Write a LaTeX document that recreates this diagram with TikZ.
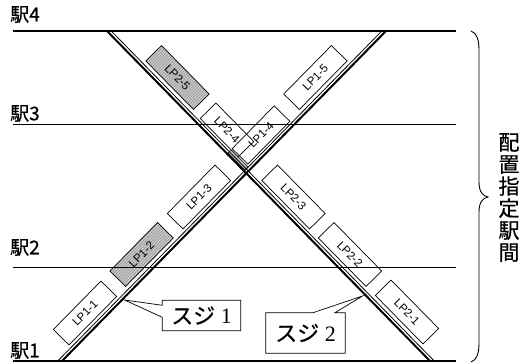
\documentclass[tikz,border=0pt]{standalone}
\usepackage{fontspec}
\setmainfont{Liberation Serif}
\newfontfamily\jpfont[FakeBold=0.6]{Noto Sans CJK JP}
\newfontfamily\lpfont{Liberation Sans}
\usetikzlibrary{patterns,calc}
\tikzset{
  stthick/.style={line width=1.6pt},
  stthin/.style={line width=0.8pt},
  trackmain/.style={line width=2pt},
  trackside/.style={line width=0.8pt},
  lpbox/.style={draw, line width=0.7pt, minimum width=68pt, minimum height=22pt, inner sep=0pt, font=\lpfont\fontsize{11.5}{11.5}\selectfont},
  lpshort/.style={lpbox, minimum width=54pt},
  lpup/.style={rotate=45.5},
  lpdown/.style={rotate=-45.5},
  hatched/.style={preaction={fill=gray!45}, pattern=north east lines, pattern color=gray!80},
  stlabel/.style={font=\jpfont\fontsize{19}{19}\selectfont, inner sep=0pt, anchor=west},
  sujibox/.style={inner sep=0pt, font=\fontsize{22}{22}\selectfont},
  callout/.style={line width=0.7pt, line join=miter},
}
\begin{document}
\begin{tikzpicture}[x=1pt,y=-1pt]
\useasboundingbox (0,0) rectangle (531,363);
% track coordinates
\coordinate (a1) at (62,361);
\coordinate (b1) at (386,31);
\coordinate (a1s) at (57.8,361);
\coordinate (b1s) at (381.8,31);
\coordinate (a2) at (107,31);
\coordinate (b2) at (430,361);
\coordinate (a2s) at (111.2,31);
\coordinate (b2s) at (434.2,361);
% boxes
\node[lpbox, lpup] (lp11) at (85,313) {LP1-1};
\node[lpbox, lpup, hatched] (lp12) at (141.6,254.5) {LP1-2};
\node[lpbox, lpup] (lp13) at (199,197) {LP1-3};
\node[lpbox, lpup] (lp15) at (315.4,77.5) {LP1-5};
\node[lpbox, lpdown] (lp21) at (407,312) {LP2-1};
\node[lpbox, lpdown] (lp22) at (350,254.5) {LP2-2};
\node[lpbox, lpdown] (lp23) at (293.5,197) {LP2-3};
\node[lpshort, lpdown] (lp24) at (227,130) {LP2-4};
\node[lpshort, minimum width=60pt, lpup] (lp14) at (261,135) {LP1-4};
\node[lpbox, lpdown, hatched] (lp25) at (177.5,77.5) {LP2-5};
\node[draw, line width=0.5pt, fill=gray!50, minimum width=24pt, minimum height=4.5pt, inner sep=0pt, lpdown] (small) at (238,160) {};
% station lines
\coordinate (s4l) at (13,31);  \coordinate (s4r) at (456,31);
\coordinate (s3l) at (13,124); \coordinate (s3r) at (456,124);
\coordinate (s2l) at (13,267); \coordinate (s2r) at (456,267);
\coordinate (s1l) at (13,361); \coordinate (s1r) at (456,361);
\draw[stthick] (s4l) -- (s4r);
\draw[stthin] (s3l) -- (s3r);
\draw[stthin] (s2l) -- (s2r);
\draw[stthick] (s1l) -- (s1r);
% tracks
\draw[trackmain] (a1) -- (b1);
\draw[trackside] (a1s) -- (b1s);
\draw[trackmain] (a2) -- (b2);
\draw[trackside] (a2s) -- (b2s);
% station labels
\node[stlabel] (st4) at (10,14.5) {駅4};
\node[stlabel] (st3) at (10,113.5) {駅3};
\node[stlabel] (st2) at (10,247.5) {駅2};
\node[stlabel] (st1) at (10,350.5) {駅1};
% callouts
\coordinate (p1) at (124.5,300);
\node[sujibox, minimum width=78pt, minimum height=30pt] (c1) at (201.5,315.5) {{\jpfont スジ} 1};
\draw[callout] (c1.north west) -- ($(c1.north west)+(0,5)$) -- (p1) -- ($(c1.north west)+(0,17)$) -- (c1.south west) -- (c1.south east) -- (c1.north east) -- cycle;
\coordinate (p2) at (362.5,296);
\node[sujibox, minimum width=79pt, minimum height=40pt] (c2) at (305.5,333) {{\jpfont スジ} 2};
\draw[callout] (c2.north west) -- ($(c2.north west)+(47,0)$) -- (p2) -- ($(c2.north west)+(69,0)$) -- (c2.north east) -- (c2.south east) -- (c2.south west) -- cycle;
% brace
\draw[line width=0.9pt] (471,31) .. controls (477,33) and (479,40) .. (479,50) -- (479,182) .. controls (479,192) and (483,196) .. (488,197) .. controls (483,198) and (479,202) .. (479,212) -- (479,343) .. controls (479,353) and (477,360) .. (471,362);
\node[font=\jpfont\fontsize{21}{22}\selectfont, align=center, inner sep=0pt] (vt) at (509,197.5) {配\\置\\指\\定\\駅\\間};
\end{tikzpicture}
\end{document}
